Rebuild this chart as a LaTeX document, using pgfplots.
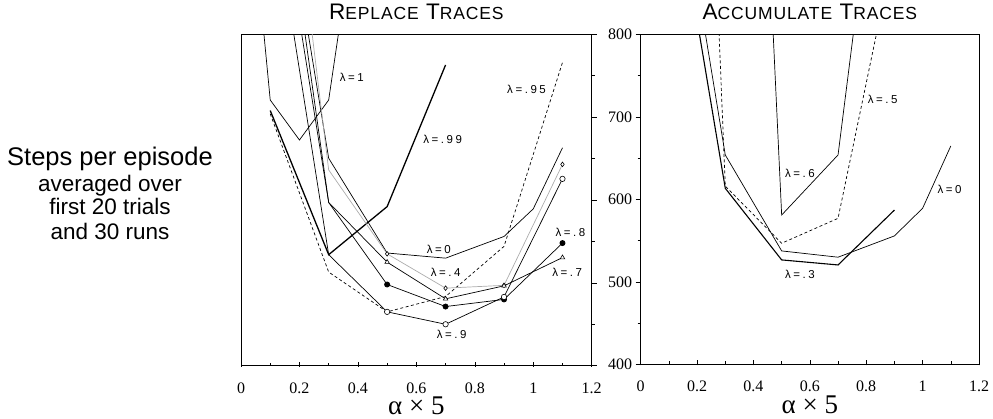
\documentclass[border=0pt]{standalone}
\usepackage{fontspec}
\setmainfont{Liberation Serif}
\newfontfamily\sansf{Liberation Sans}
\newfontfamily\lamf[LetterSpace=22]{Liberation Sans}
\newfontfamily\titlef[LetterSpace=5]{Liberation Sans}
\usepackage{pgfplots}
\pgfplotsset{compat=1.18}
\newcommand{\smc}[1]{{\fontsize{17.5}{19}\selectfont #1}}
\tikzset{
  thinl/.style={black, line width=0.7pt},
  lab/.style={font=\lamf\fontsize{11.5}{13}\selectfont, inner sep=0pt},
}
\pgfplotsset{
  myaxis/.style={
    scale only axis, anchor=south west,
    xmin=0, xmax=1.2, ymin=400, ymax=800,
    xtick={0,0.2,0.4,0.6,0.8,1,1.2}, minor x tick num=1,
    ytick={400,500,600,700,800}, minor y tick num=1,
    xtick pos=bottom,
    tick align=outside,
    major tick length=5pt, minor tick length=3pt,
    major x tick style={yshift=4pt}, minor x tick style={yshift=3pt},
    axis line style={line width=0.8pt},
    tick style={line width=0.6pt, black},
    /pgf/number format/assume math mode=true,
    tick label style={font=\fontsize{16}{18}\selectfont},
    xticklabel style={anchor=base, yshift=-22.5pt, inner sep=0pt},
    title style={font=\titlef\fontsize{22.5}{25}\selectfont, at={(0.5,1)}, anchor=base, yshift=9pt},
    xlabel style={font=\fontsize{27}{30}\selectfont, at={(axis description cs:0.5,0)}, anchor=base, yshift=-49pt, inner sep=0pt},
    xlabel={α × 5},
  },
}
\begin{document}
\begin{tikzpicture}
\useasboundingbox (0pt,0pt) rectangle (993pt,419pt);
% left text
\node[font=\sansf\fontsize{25.5}{28}\selectfont, anchor=base] at (110pt,253pt) {Steps per episode};
\node[font=\sansf\fontsize{22.5}{25}\selectfont, anchor=base] at (110pt,227.3pt) {averaged over};
\node[font=\sansf\fontsize{22.5}{25}\selectfont, anchor=base] at (110pt,204pt) {first 20 trials};
\node[font=\sansf\fontsize{22.5}{25}\selectfont, anchor=base] at (110pt,179pt) {and 30 runs};

\begin{axis}[myaxis, at={(241pt,53.3pt)}, width=350.7pt, height=331.4pt,
  ytick pos=right, yticklabels={},
  title={R\smc{EPLACE} T\smc{RACES}}]
% lambda = 1
\addplot[thinl] coordinates {(0.05,905) (0.1,720.7) (0.2,672.4) (0.3,720.7) (0.4,960)};
% lambda = .99
\addplot[black, line width=1.3pt] coordinates {(0.1,708) (0.3,534) (0.5,592) (0.7,763)};
% lambda = .95
\addplot[thinl, dash pattern=on 3pt off 2.5pt] coordinates {(0.1,704) (0.3,513) (0.5,465) (0.7,483.5) (0.9,544) (1.1,766)};
% lambda = 0
\addplot[thinl] coordinates {(0.1,1080) (0.3,650.4) (0.5,536) (0.7,529.8) (0.9,556) (1.0,589.3) (1.1,663)};
% lambda = .4
\addplot[gray!65, line width=0.7pt, mark=diamond*, mark indices={2,3,4,5,6}, mark options={fill=white, draw=black, line width=0.6pt, mark size=2.3pt}] coordinates {(0.1,1216) (0.3,636.3) (0.5,535) (0.7,493.6) (0.9,497) (1.1,643)};
% lambda = .7
\addplot[thinl, mark=triangle*, mark indices={2,3,4,5,6}, mark options={fill=white, draw=black, line width=0.6pt, mark size=2.6pt}] coordinates {(0.1,1037) (0.3,597) (0.5,525) (0.7,480.7) (0.9,496.4) (1.1,530.5)};
% lambda = .8
\addplot[thinl, mark=*, mark indices={2,3,4,5,6}, mark options={fill=black, draw=black, mark size=2.6pt}] coordinates {(0.1,1099) (0.3,597) (0.5,498) (0.7,471.4) (0.9,480) (1.1,548)};
% lambda = .9
\addplot[thinl, mark=*, mark indices={2,3,4,5,6}, mark options={fill=white, draw=black, line width=0.6pt, mark size=2.7pt}] coordinates {(0.1,980) (0.3,534) (0.5,465) (0.7,450) (0.9,483) (1.1,625.5)};

\node[lab] at (axis cs:0.379,748) {λ=1};
\node[lab] at (axis cs:0.69,673) {λ=.99};
\node[lab] at (axis cs:0.977,733) {λ=.95};
\node[lab] at (axis cs:0.677,540.6) {λ=0};
\node[lab] at (axis cs:0.70,512.4) {λ=.4};
\node[lab] at (axis cs:0.721,437.3) {λ=.9};
\node[lab] at (axis cs:1.127,561) {λ=.8};
\node[lab] at (axis cs:1.116,512.4) {λ=.7};
\end{axis}

\begin{axis}[myaxis, at={(640.7pt,54.6pt)}, width=338.3pt, height=330.1pt,
  ytick pos=left,
  title={A\smc{CCUMULATE} T\smc{RACES}}]
% lambda = 0
\addplot[thinl] coordinates {(0.1,1070) (0.3,653.8) (0.5,537.5) (0.7,529.9) (0.9,555.7) (1.0,589.2) (1.1,664.7)};
% lambda = .3
\addplot[black, line width=1.1pt] coordinates {(0.1,1021) (0.3,613.4) (0.5,526.6) (0.7,520.5) (0.9,587)};
% lambda = .5
\addplot[thinl, dash pattern=on 3pt off 2.5pt] coordinates {(0.1,2300) (0.3,616) (0.5,546.8) (0.7,577) (0.9,905)};
% lambda = .6
\addplot[thinl] coordinates {(0.3,2040) (0.5,581) (0.7,653.8) (0.9,1195)};

\node[lab] at (axis cs:0.858,721.3) {λ=.5};
\node[lab] at (axis cs:0.565,632) {λ=.6};
\node[lab] at (axis cs:1.096,612.2) {λ=0};
\node[lab] at (axis cs:0.565,509.6) {λ=.3};
\end{axis}
\end{tikzpicture}
\end{document}
